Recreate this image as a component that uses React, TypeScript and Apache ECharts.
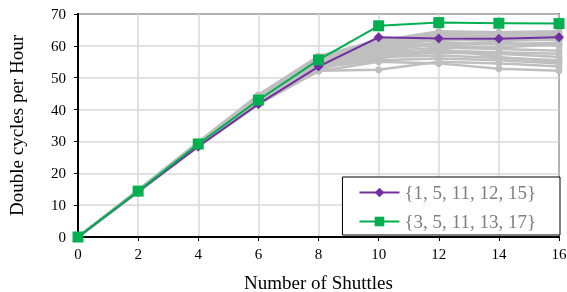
import React, { useEffect, useRef } from "react";
import * as echarts from "echarts";

const shuttles = [0, 2, 4, 6, 8, 10, 12, 14, 16];
const purpleName = "{1, 5, 11, 12, 15}";
const greenName = "{3, 5, 11, 13, 17}";
const purpleValues = [0, 14.2, 28.4, 41.7, 53.5, 62.7, 62.3, 62.2, 62.7];
const greenValues = [0, 14.4, 29.2, 43.0, 55.6, 66.3, 67.3, 67.1, 67.0];
const grayValues: number[][] = [
  [0, 14.8, 29.8, 44.6, 56.8, 61.5, 64.6, 64.3, 64.6],
  [0, 14.6, 29.5, 44.0, 56.0, 61.0, 64.0, 63.8, 64.0],
  [0, 14.7, 29.6, 44.2, 55.5, 60.5, 63.5, 63.0, 63.5],
  [0, 14.5, 29.2, 43.5, 55.0, 60.0, 63.0, 62.8, 63.2],
  [0, 14.5, 29.0, 43.0, 54.5, 59.5, 62.0, 61.5, 62.0],
  [0, 14.4, 28.8, 42.5, 54.0, 59.0, 61.0, 60.5, 61.0],
  [0, 14.3, 28.6, 42.2, 53.5, 58.5, 60.5, 61.0, 60.0],
  [0, 14.4, 28.9, 42.8, 53.0, 58.0, 59.5, 59.0, 58.5],
  [0, 14.2, 28.5, 42.0, 52.5, 57.5, 58.5, 58.0, 57.5],
  [0, 14.3, 28.4, 41.8, 52.8, 57.0, 57.8, 57.5, 56.5],
  [0, 14.6, 29.3, 43.8, 54.8, 56.5, 57.0, 56.2, 55.5],
  [0, 14.5, 29.1, 43.2, 53.8, 56.0, 59.0, 56.5, 55.0],
  [0, 14.4, 28.7, 42.6, 53.2, 55.5, 56.0, 55.5, 54.5],
  [0, 14.2, 28.3, 41.6, 52.2, 52.5, 55.0, 54.5, 53.5],
  [0, 14.3, 28.6, 42.0, 52.0, 55.0, 54.5, 52.8, 52.2],
  [0, 14.6, 29.4, 43.6, 55.2, 60.8, 60.0, 59.5, 60.5],
  [0, 14.7, 29.7, 44.6, 56.4, 62.0, 61.5, 62.5, 61.8],
];

const FONT = "'Liberation Serif', 'Times New Roman', serif";

export default function App() {
  const ref = useRef<HTMLDivElement>(null);
  useEffect(() => {
    if (!ref.current) return;
    const chart = echarts.init(ref.current, undefined, { renderer: "svg" });
    const pair = (vals: number[]) => vals.map((v, i) => [shuttles[i], v]);
    const grays = grayValues.map((vals, k) => ({
      name: "g" + k,
      type: "line" as const,
      data: pair(vals),
      symbol: "circle",
      symbolSize: 7,
      lineStyle: { color: "#bfbfbf", width: 2.5 },
      itemStyle: { color: "#bfbfbf" },
      z: 2,
    }));
    chart.setOption({
      animation: false,
      textStyle: { fontFamily: FONT },
      grid: {
        left: 78,
        right: 8,
        top: 14,
        bottom: 55,
        outerBoundsMode: "none",
        containLabel: false,
        show: true,
        borderColor: "#000",
        borderWidth: 1.5,
        backgroundColor: "transparent",
      },
      legend: {
        data: [purpleName, greenName],
        orient: "vertical",
        right: 7,
        bottom: 57,
        itemWidth: 40,
        itemHeight: 12,
        itemGap: 10,
        padding: [6, 24, 4, 16],
        backgroundColor: "#fff",
        borderColor: "#000",
        borderWidth: 1,
        borderRadius: 0,
        textStyle: { fontFamily: FONT, fontSize: 19, color: "#7f7f7f" },
      },
      xAxis: {
        type: "value",
        min: 0,
        max: 16,
        interval: 2,
        name: "Number of Shuttles",
        nameLocation: "middle",
        nameGap: 36,
        nameTextStyle: { fontFamily: FONT, fontSize: 19, color: "#000" },
        axisLine: { lineStyle: { color: "#000", width: 2 } },
        axisTick: { show: true, length: 4, lineStyle: { color: "#000" } },
        axisLabel: { fontFamily: FONT, fontSize: 15, color: "#000", margin: 9 },
        splitLine: { show: true, lineStyle: { color: "#d9d9d9", width: 1.5 } },
      },
      yAxis: {
        type: "value",
        min: 0,
        max: 70,
        interval: 10,
        name: "Double cycles per Hour",
        nameLocation: "middle",
        nameGap: 52,
        nameTextStyle: { fontFamily: FONT, fontSize: 19, color: "#000" },
        axisLine: { show: true, lineStyle: { color: "#000", width: 2 } },
        axisTick: { show: true, length: 4, lineStyle: { color: "#000" } },
        axisLabel: { fontFamily: FONT, fontSize: 15, color: "#000", margin: 12 },
        splitLine: { show: true, lineStyle: { color: "#d9d9d9", width: 1.5 } },
      },
      series: [
        ...grays,
        {
          name: purpleName,
          type: "line",
          data: pair(purpleValues),
          symbol: "diamond",
          symbolSize: 10,
          lineStyle: { color: "#7030a0", width: 2 },
          itemStyle: { color: "#7030a0" },
          z: 3,
        },
        {
          name: greenName,
          type: "line",
          data: pair(greenValues),
          symbol: "rect",
          symbolSize: 11,
          lineStyle: { color: "#00b050", width: 2 },
          itemStyle: { color: "#00b050" },
          z: 4,
        },
      ],
    });
    return () => chart.dispose();
  }, []);
  return (
    <div
      ref={ref}
      style={{ position: "fixed", left: 0, top: 0, width: 567, height: 292 }}
    />
  );
}
